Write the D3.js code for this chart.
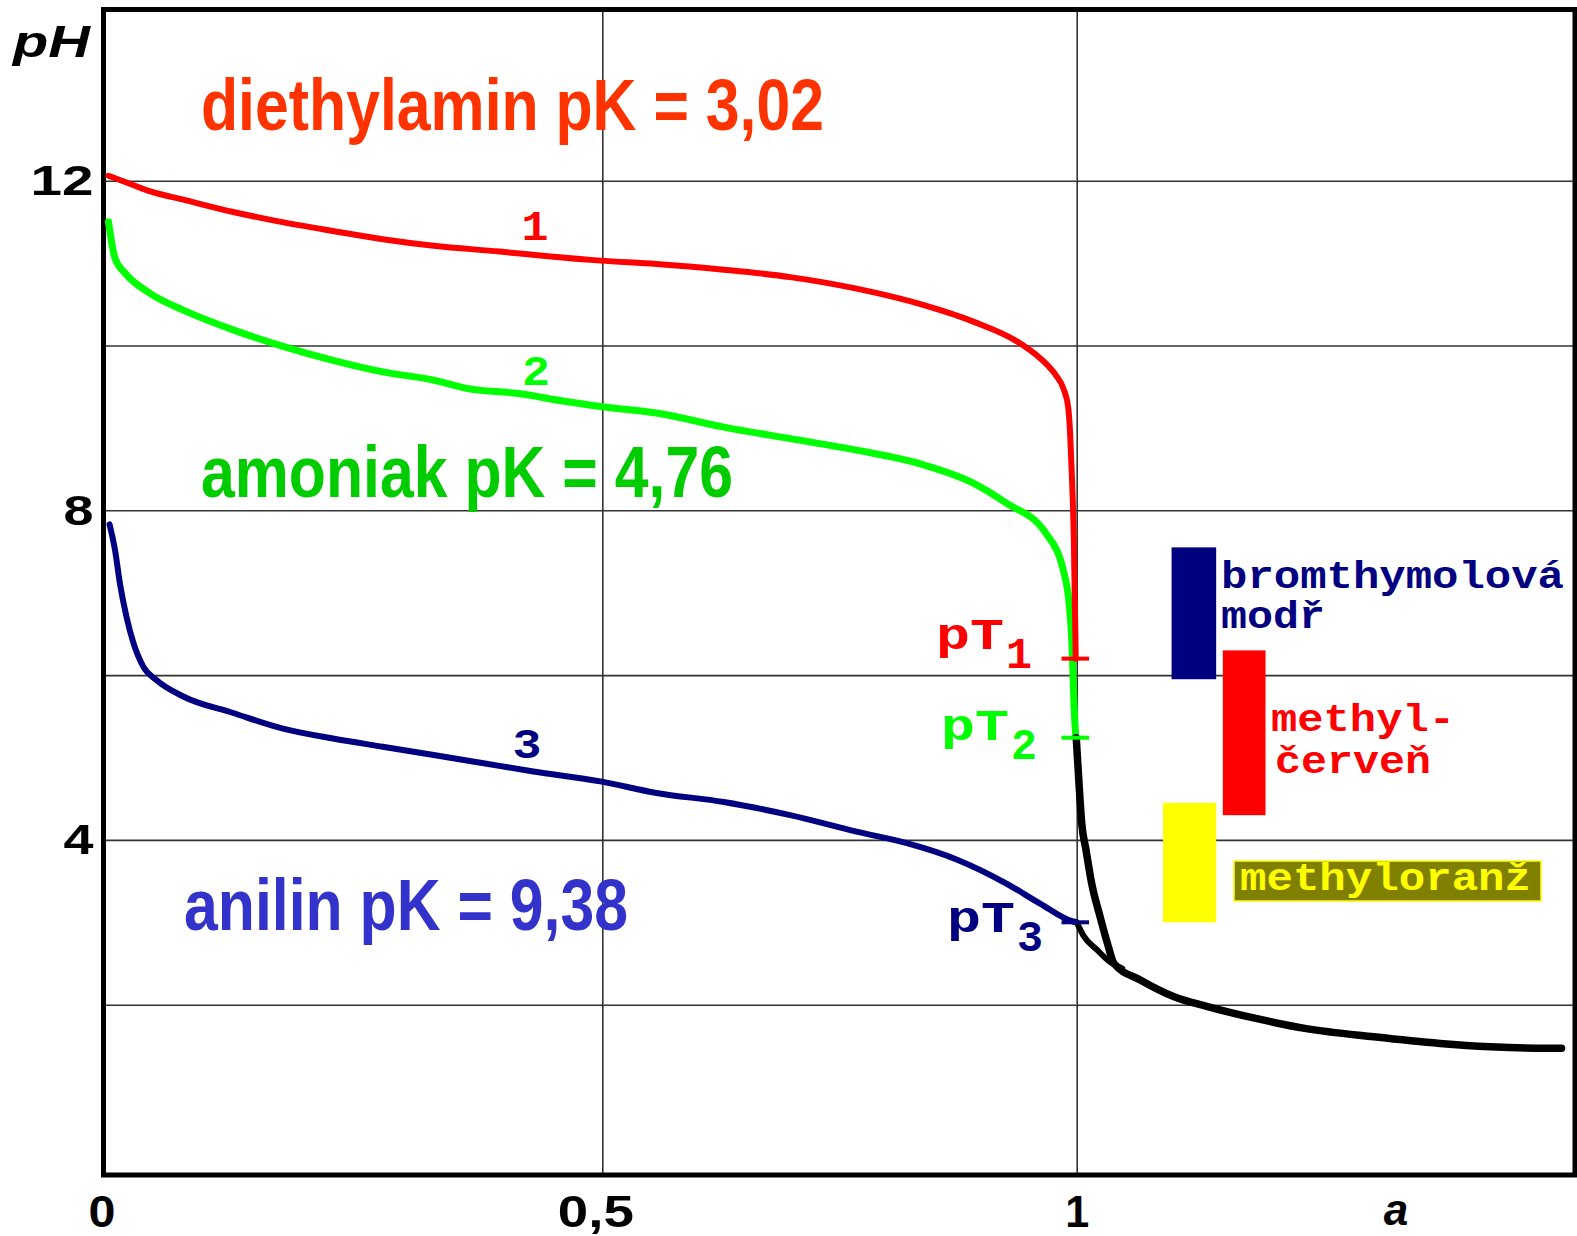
<!DOCTYPE html>
<html>
<head>
<meta charset="utf-8">
<script src="https://cdn.jsdelivr.net/npm/d3@7"></script>
<style>
  body { margin: 0; background: #fff; }
  svg { display: block; }
</style>
</head>
<body>
<div id="chart"></div>
<script>
// titration curves, each point is [a, pH]
var curve1 = [[0.005,12.06],[0.027,11.96],[0.047,11.87],[0.080,11.77],[0.130,11.62],[0.174,11.51],
  [0.230,11.39],[0.280,11.29],[0.331,11.21],[0.397,11.14],[0.448,11.08],[0.498,11.03],[0.557,10.99],
  [0.628,10.92],[0.698,10.83],[0.768,10.69],[0.839,10.49],[0.891,10.29],[0.937,10.05],[0.962,9.84],
  [0.9676,9.78],[0.978,9.64],[0.9866,9.46],[0.9909,9.26],[0.993,8.95],[0.995,8.40],[0.997,7.64],
  [0.999,6.2]];
var curve2 = [[0.005,11.50],[0.0115,11.06],[0.0216,10.88],[0.047,10.63],[0.080,10.43],[0.130,10.19],
  [0.180,9.99],[0.230,9.82],[0.280,9.68],[0.331,9.58],[0.364,9.48],[0.414,9.42],[0.464,9.32],
  [0.498,9.26],[0.557,9.18],[0.628,9.01],[0.698,8.87],[0.768,8.73],[0.839,8.55],[0.891,8.33],
  [0.9255,8.09],[0.9676,7.72],[0.9866,7.24],[0.9919,6.88],[0.995,6.38],[0.997,5.70],[0.999,5.24]];
var curve3 = [[0.006,7.83],[0.0115,7.52],[0.0165,7.11],[0.023,6.71],[0.030,6.39],[0.040,6.10],
  [0.053,5.94],[0.080,5.74],[0.130,5.54],[0.180,5.35],[0.230,5.23],[0.280,5.13],[0.331,5.03],
  [0.381,4.93],[0.431,4.83],[0.498,4.71],[0.557,4.57],[0.628,4.46],[0.698,4.30],[0.768,4.10],
  [0.821,3.96],[0.874,3.76],[0.926,3.47],[0.961,3.23],[0.996,3.01],[1.0,3.0]];
// common part after the equivalence point (excess HCl)
var excess = [[0.9995,5.24],[1.0024,4.69],[1.0053,4.20],[1.0098,3.88],[1.0158,3.47],[1.0246,3.07],
  [1.0325,2.74],[1.0393,2.50],[1.067,2.30],[1.102,2.10],[1.137,1.98],[1.190,1.83],[1.242,1.71],
  [1.313,1.61],[1.383,1.53],[1.436,1.49],[1.497,1.47],[1.511,1.47]];
var excess3 = [[1.0,3.0],[1.007,2.84],[1.021,2.67],[1.035,2.52],[1.048,2.44]];

// equivalence points
var pT = [6.2, 5.24, 3.0];
var pTColors = ["#ff0000", "#00ff00", "#000080"];

// indicators: colour change ranges
var indNames = ["bromthymolová", "methyl-", "methyloranž"];
var indLow = [5.95, 4.3, 3.0];
var indHigh = [7.55, 6.3, 4.45];
var indA0 = [1.1, 1.154, 1.091];
var indA1 = [1.147, 1.199, 1.147];
var indColors = ["#000080", "#ff0000", "#ffff00"];

var yTicks = [4, 8, 12];
var gridY = [2, 4, 6, 8, 10, 12];
var xTicks = [0, 0.5, 1];
var xTickLabels = ["0", "0,5", "1"];
var gridX = [0.5, 1];

var drawGraph = function() {
  var width = 1577, height = 1236;
  var pLeft = 103.5, pRight = 1575, pTop = 9.5, pBottom = 1175;

  var svg = d3.select("#chart").append("svg")
    .attr("width", width)
    .attr("height", height);

  // the grid in the original is a bit uneven horizontally
  var x = d3.scaleLinear().domain([0, 0.5, 1, 1.5]).range([103.5, 602.3, 1076.7, 1551.1]);
  var y = d3.scaleLinear().domain([0, 14]).range([1169.5, 1169.5 - 14 * 82.4]);

  var sans = "'Liberation Sans', Arial, sans-serif";
  var narrow = "'Liberation Sans Narrow', 'Arial Narrow', 'Liberation Sans', Arial, sans-serif";
  var mono = "'Courier New', 'Liberation Mono', monospace";

  // grid
  svg.append("g")
    .attr("transform", "translate(" + pLeft + ",0)")
    .call(d3.axisLeft(y).tickValues(gridY).tickSize(-(pRight - pLeft)).tickFormat(""))
    .call(function(g){ g.select(".domain").remove(); })
    .selectAll("line").attr("stroke", "#333").attr("stroke-width", 1.6);

  svg.append("g")
    .attr("transform", "translate(0," + pBottom + ")")
    .call(d3.axisBottom(x).tickValues(gridX).tickSize(-(pBottom - pTop)).tickFormat(""))
    .call(function(g){ g.select(".domain").remove(); })
    .selectAll("line").attr("stroke", "#333").attr("stroke-width", 1.6);

  // frame
  svg.append("rect")
    .attr("x", pLeft).attr("y", pTop)
    .attr("width", pRight - pLeft).attr("height", pBottom - pTop)
    .attr("fill", "none").attr("stroke", "#000").attr("stroke-width", 5);

  // tick labels
  var yAxis = svg.append("g")
    .attr("transform", "translate(" + pLeft + ",0)")
    .call(d3.axisLeft(y).tickValues(yTicks).tickSize(0).tickPadding(10));
  yAxis.select(".domain").remove();
  yAxis.selectAll("text")
    .attr("font-family", sans).attr("font-weight", "bold").attr("font-size", 43)
    .attr("fill", "#000")
    .attr("textLength", function(d){ return d >= 10 ? 63 : 30; })
    .attr("lengthAdjust", "spacingAndGlyphs");

  var xAxis = svg.append("g")
    .attr("transform", "translate(0," + pBottom + ")")
    .call(d3.axisBottom(x).tickValues(xTicks).tickSize(0).tickPadding(21)
      .tickFormat(function(d, i){ return xTickLabels[i]; }));
  xAxis.select(".domain").remove();
  xAxis.selectAll("text")
    .attr("font-family", sans).attr("font-weight", "bold").attr("font-size", 44)
    .attr("fill", "#000")
    .attr("dx", function(d){ return d === 0.5 ? -7 : (d === 0 ? -2 : 0); })
    .attr("textLength", function(d, i){ return [27, 76, 24][i]; })
    .attr("lengthAdjust", "spacingAndGlyphs");

  function label(txt, px, py, opt) {
    var t = svg.append("text")
      .attr("x", px).attr("y", py)
      .attr("font-family", opt.family || sans)
      .attr("font-weight", opt.weight || "bold")
      .attr("font-style", opt.style || "normal")
      .attr("font-size", opt.size)
      .attr("fill", opt.color || "#000")
      .attr("text-anchor", opt.anchor || "start")
      .text(txt);
    if (opt.len) t.attr("textLength", opt.len).attr("lengthAdjust", "spacingAndGlyphs");
    return t;
  }

  label("pH", 13, 57, {size: 44, style: "italic", len: 77});
  label("a", 1396, 1225, {size: 44, style: "italic", anchor: "middle"});

  // titles
  label("diethylamin pK = 3,02", 201, 130, {size: 73, family: narrow, color: "#ff3300", len: 623});
  label("amoniak pK = 4,76", 201, 497, {size: 73, family: narrow, color: "#00cc00", len: 532});
  label("anilin pK = 9,38", 184, 930, {size: 73, family: narrow, color: "#3333cc", len: 444});

  // curves
  var line = d3.line()
    .x(function(d){ return x(d[0]); })
    .y(function(d){ return y(d[1]); })
    .curve(d3.curveMonotoneX);

  function drawCurve(data, color, w) {
    svg.append("path")
      .datum(data)
      .attr("d", line)
      .attr("fill", "none")
      .attr("stroke", color)
      .attr("stroke-width", w)
      .attr("stroke-linejoin", "round")
      .attr("stroke-linecap", "round");
  }

  drawCurve(curve2, "#00ff00", 7);
  drawCurve(curve1, "#ff0000", 6);
  drawCurve(curve3, "#000080", 6);
  drawCurve(excess3, "#000", 6);
  drawCurve(excess, "#000", 7.5);

  // curve numbers
  label("1", 535, 240, {size: 42, family: mono, color: "#ff0000", anchor: "middle", len: 27});
  label("2", 536, 385, {size: 42, family: mono, color: "#00ff00", anchor: "middle", len: 28});
  label("3", 527, 758, {size: 42, family: mono, color: "#000080", anchor: "middle", len: 29});

  // equivalence point marks
  svg.selectAll(".pt")
    .data(pT)
    .enter().append("line")
    .attr("x1", x(0.984)).attr("x2", x(1.013))
    .attr("y1", function(d){ return y(d); })
    .attr("y2", function(d){ return y(d); })
    .attr("stroke", function(d, i){ return pTColors[i]; })
    .attr("stroke-width", 4);

  var pTx = [936, 941, 947];
  var pTdy = [-10, 2, 10];
  pT.forEach(function(v, i) {
    var by = y(v) + pTdy[i];
    label("pT", pTx[i], by, {size: 44, family: mono, color: pTColors[i], len: 68});
    label(String(i + 1), pTx[i] + 70, by + 19, {size: 44, family: mono, color: pTColors[i], len: 26});
  });

  // indicator ranges
  svg.selectAll(".ind")
    .data(indLow)
    .enter().append("rect")
    .attr("x", function(d, i){ return x(indA0[i]); })
    .attr("width", function(d, i){ return x(indA1[i]) - x(indA0[i]); })
    .attr("y", function(d, i){ return y(indHigh[i]); })
    .attr("height", function(d, i){ return y(d) - y(indHigh[i]); })
    .attr("fill", function(d, i){ return indColors[i]; });

  // indicator names
  label(indNames[0], 1221, 588, {size: 38, family: mono, color: "#000080", len: 343});
  label("modř", 1221, 628, {size: 38, family: mono, color: "#000080", len: 104});
  label(indNames[1], 1271, 731, {size: 38, family: mono, color: "#ff0000", len: 184});
  label("červeň", 1275, 773, {size: 38, family: mono, color: "#ff0000", len: 156});
  svg.append("rect")
    .attr("x", 1234).attr("y", 861).attr("width", 307).attr("height", 40)
    .attr("fill", "#808000").attr("stroke", "#ffff00").attr("stroke-width", 1.5);
  label(indNames[2], 1240, 890, {size: 38, family: mono, color: "#ffff00", len: 291});
};

drawGraph();
</script>
</body>
</html>
